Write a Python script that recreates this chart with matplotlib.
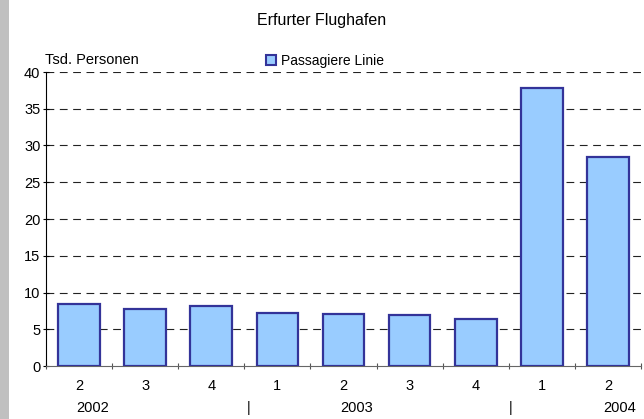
import matplotlib
matplotlib.use("Agg")
import matplotlib.pyplot as plt
from matplotlib.patches import Rectangle, Patch

quarters = ["2", "3", "4", "1", "2", "3", "4", "1", "2"]
passagiere = [8.5, 7.8, 8.2, 7.2, 7.1, 6.9, 6.4, 37.8, 28.4]
years = ["2002", "2003", "2004"]
year_pos = [0.21, 4.2, 8.17]
sep_pos = [2.56, 6.53]
y_ticks = [0, 5, 10, 15, 20, 25, 30, 35, 40]

plt.rcParams['font.family'] = ['Liberation Sans', 'DejaVu Sans']

fig = plt.figure(figsize=(6.44, 4.19), dpi=100)
fig.patches.append(Rectangle((0, 0), 9/644, 1, transform=fig.transFigure,
                             facecolor="#c0c0c0", edgecolor="none", zorder=0))
ax = fig.add_axes([46/644, 1-366/419, (641-46)/644, (366-72)/419])

x = list(range(len(passagiere)))
ax.bar(x, passagiere, width=0.63, color="#99ccff", edgecolor="#333399",
       linewidth=1.6, zorder=3)
ax.set_xlim(-0.5, len(passagiere)-0.5)
ax.set_ylim(0, 40)
ax.set_yticks(y_ticks)
for t in y_ticks[1:]:
    ax.axhline(t, color="#222222", lw=0.8, dashes=(7, 5), zorder=1)

ax.set_xticks([i - 0.5 for i in range(len(passagiere)+1)])
ax.set_xticklabels([])
ax.set_xticks(x, minor=True)
ax.set_xticklabels(quarters, minor=True)
ax.tick_params(axis='x', which='minor', length=0, pad=9, labelsize=10.5)
ax.tick_params(axis='x', which='major', length=4, color="#555555", direction='inout')
ax.tick_params(axis='y', length=4, labelsize=10.5, pad=2, direction='inout')

for s in ['top', 'right']:
    ax.spines[s].set_visible(False)
ax.spines['bottom'].set_color("#666666")
ax.spines['left'].set_color("black")

trans = ax.get_xaxis_transform()
for yr, p in zip(years, year_pos):
    ax.text(p, -0.143, yr, transform=trans, ha='center', va='center', fontsize=10.5)
for p in sep_pos:
    ax.text(p, -0.143, "|", transform=trans, ha='center', va='center', fontsize=10.5)

fig.text(322/644, 1-20/419, "Erfurter Flughafen", ha='center', va='center', fontsize=11.5)
fig.text(45/644, 1-60/419, "Tsd. Personen", ha='left', va='center', fontsize=10.5)

leg = fig.legend(handles=[Patch(facecolor="#99ccff", edgecolor="#333399", linewidth=1.5,
                                label="Passagiere Linie")],
                 loc='center left', bbox_to_anchor=(259/644, 1-61/419),
                 frameon=False, fontsize=10, handlelength=0.75, handleheight=0.75,
                 handletextpad=0.35, borderpad=0)

fig.savefig("out.png", dpi=100)
